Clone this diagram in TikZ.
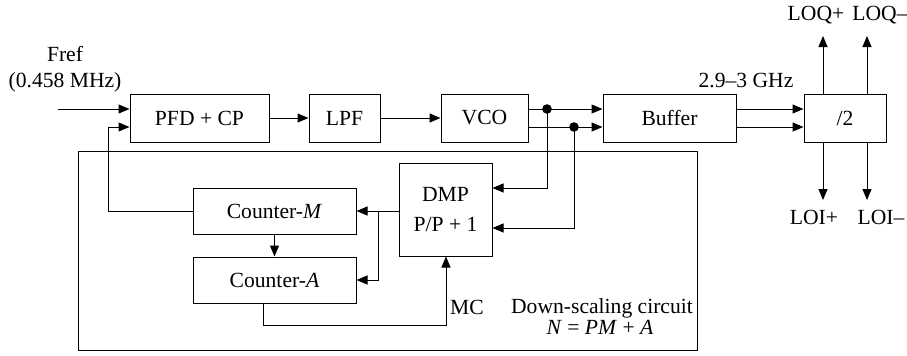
\documentclass[tikz,border=0pt]{standalone}
\usepackage{fontspec}
\setmainfont{Liberation Serif}
\usepackage{tikz}
\usetikzlibrary{arrows.meta, calc}

\begin{document}
\begin{tikzpicture}[x=0.5pt, y=-0.5pt, line width=0.5pt,
    font=\fontsize{10.8}{12}\selectfont,
    blk/.style={draw, minimum height=24pt, inner sep=0pt},
    >={Triangle[length=5.5pt, width=4.5pt]}]
    \useasboundingbox (0,0) rectangle (907,355);
    \draw (78,151) rectangle (697,350);
    \node[blk, minimum width=69.5pt] (pfd) at (199.5,118) {PFD + CP};
    \node[blk, minimum width=35.5pt] (lpf) at (344.5,118) {LPF};
    \node[blk, minimum width=43.5pt] (vco) at (484.5,118) {VCO};
    \node[blk, minimum width=66.5pt] (buf) at (669.5,118) {Buffer};
    \node[blk, minimum width=41pt] (div) at (845,118) {/2};
    \node[blk, minimum width=46.5pt, minimum height=46.5pt, align=center] (dmp) at (445.5,209.5) {DMP\\[3pt]P/P + 1};
    \node[blk, minimum width=81.5pt, minimum height=23pt] (cntm) at (274.5,211) {Counter-\textit{M}};
    \node[blk, minimum width=81.5pt, minimum height=23pt] (cnta) at (274.5,280) {Counter-\textit{A}};
    \node (fref) at (65,54) {Fref};
    \node (freq) at (65,82) {(0.458 MHz)};
    \coordinate (fin) at (58,109);
    \draw[->] (fin) -- (fin -| pfd.west);
    \draw[->] (cntm.west) -| (108,127) -- ($(pfd.west)+(0,9)$);
    \draw[->] (pfd) -- (lpf);
    \draw[->] (lpf) -- (vco);
    \draw[->] ($(vco.east)+(0,-9)$) -- ($(buf.west)+(0,-9)$);
    \draw[->] ($(vco.east)+(0,9)$) -- ($(buf.west)+(0,9)$);
    \coordinate (tap1) at (547,109);
    \coordinate (tap2) at (574,127);
    \fill (tap1) circle (2.4pt);
    \fill (tap2) circle (2.4pt);
    \draw[->] (tap1) |- (dmp.east |- 0,188);
    \draw[->] (tap2) |- (dmp.east |- 0,228);
    \draw[->] ($(buf.east)+(0,-9)$) -- ($(div.west)+(0,-9)$);
    \draw[->] ($(buf.east)+(0,9)$) -- ($(div.west)+(0,9)$);
    \node (ghz) at (746,80) {2.9\textendash3 GHz};
    \node (loqp) at (816,15) {LOQ+};
    \node (loqm) at (880,15) {LOQ\textendash};
    \node (loip) at (814,217) {LOI+};
    \node (loim) at (881,217) {LOI\textendash};
    \draw[->] (div.north -| 823,0) -- (823,36);
    \draw[->] (div.north -| 867,0) -- (867,36);
    \draw[->] (div.south -| 823,0) -- (823,200);
    \draw[->] (div.south -| 867,0) -- (867,200);
    \draw[->] (dmp.west |- cntm.east) -- (cntm.east);
    \draw[->] (378,211) |- (cnta.east);
    \draw[->] (cntm) -- (cnta);
    \draw[->] (cnta.south -| 263,0) |- (446,325) -- (dmp.south -| 446,0);
    \node (mc) at (467,307) {MC};
    \node (dsc) at (602,308) {Down-scaling circuit};
    \node (neq) at (600,327) {\textit{N} = \textit{PM} + \textit{A}};
\end{tikzpicture}
\end{document}
